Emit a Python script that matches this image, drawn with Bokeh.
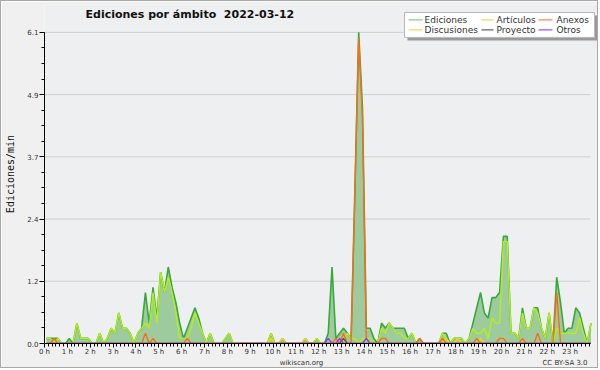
import math
from bokeh.plotting import figure
from bokeh.models import Range1d, FixedTicker, PrintfTickFormatter, Label, LinearAxis
from bokeh.embed import file_html
from bokeh.resources import INLINE

# ---------------- data (edits per minute, 10-minute bins) ----------------
hours = list(range(24))
y_ticks = [0.0, 1.22, 2.44, 3.66, 4.88, 6.1]
footer_texts = ["wikiscan.org", "CC BY-SA 3.0"]

ediciones = [
    0.1, 0.1, 0.1, 0.1, 0.0, 0.0,   # 0 h
    0.1, 0.0, 0.4, 0.1, 0.1, 0.1,   # 1 h
    0.0, 0.0, 0.2, 0.0, 0.1, 0.3,   # 2 h
    0.2, 0.6, 0.3, 0.3, 0.2, 0.0,   # 3 h
    0.2, 0.3, 1.0, 0.4, 1.1, 0.5,   # 4 h
    1.4, 1.0, 1.5, 1.1, 0.8, 0.4,   # 5 h
    0.1, 0.3, 0.5, 0.7, 0.5, 0.2,   # 6 h
    0.0, 0.2, 0.0, 0.0, 0.0, 0.1,   # 7 h
    0.2, 0.0, 0.0, 0.0, 0.0, 0.0,   # 8 h
    0.0, 0.0, 0.0, 0.0, 0.0, 0.2,   # 9 h
    0.0, 0.0, 0.1, 0.0, 0.0, 0.0,   # 10 h
    0.0, 0.0, 0.1, 0.0, 0.0, 0.1,   # 11 h
    0.0, 0.0, 0.2, 1.5, 0.1, 0.2,   # 12 h
    0.3, 0.2, 0.1, 3.0, 6.1, 4.6,   # 13 h
    0.3, 0.3, 0.1, 0.0, 0.4, 0.3,   # 14 h
    0.4, 0.3, 0.3, 0.3, 0.3, 0.1,   # 15 h
    0.2, 0.0, 0.1, 0.0, 0.0, 0.0,   # 16 h
    0.0, 0.0, 0.2, 0.2, 0.0, 0.1,   # 17 h
    0.1, 0.1, 0.0, 0.1, 0.4, 0.7,   # 18 h
    1.0, 0.6, 0.5, 0.9, 0.9, 1.0,   # 19 h
    2.1, 2.1, 0.2, 0.2, 0.1, 0.7,   # 20 h
    0.3, 0.3, 0.7, 0.7, 0.3, 0.1,   # 21 h
    0.6, 0.0, 1.3, 0.8, 0.2, 0.3,   # 22 h
    0.3, 0.7, 0.6, 0.3, 0.0, 0.4,   # 23 h
]

articulos = [
    0.1, 0.1, 0.0, 0.1, 0.0, 0.0,
    0.0, 0.0, 0.4, 0.1, 0.1, 0.1,
    0.0, 0.0, 0.2, 0.0, 0.1, 0.3,
    0.2, 0.6, 0.3, 0.3, 0.2, 0.0,
    0.2, 0.3, 0.4, 0.3, 1.0, 0.4,
    1.4, 1.0, 1.3, 1.0, 0.6, 0.1,
    0.1, 0.1, 0.3, 0.6, 0.4, 0.2,
    0.0, 0.2, 0.0, 0.0, 0.0, 0.1,
    0.2, 0.0, 0.0, 0.0, 0.0, 0.0,
    0.0, 0.0, 0.0, 0.0, 0.0, 0.2,
    0.0, 0.0, 0.0, 0.0, 0.0, 0.0,
    0.0, 0.0, 0.0, 0.0, 0.0, 0.1,
    0.0, 0.0, 0.0, 0.0, 0.0, 0.1,
    0.1, 0.2, 0.1, 0.1, 0.0, 0.1,
    0.1, 0.1, 0.0, 0.0, 0.3, 0.2,
    0.4, 0.3, 0.2, 0.2, 0.1, 0.1,
    0.2, 0.0, 0.0, 0.0, 0.0, 0.0,
    0.0, 0.0, 0.2, 0.1, 0.0, 0.1,
    0.1, 0.1, 0.0, 0.1, 0.3, 0.2,
    0.2, 0.3, 0.1, 0.5, 0.4, 0.4,
    2.0, 2.0, 0.2, 0.2, 0.1, 0.6,
    0.3, 0.3, 0.7, 0.6, 0.3, 0.1,
    0.6, 0.0, 0.3, 0.2, 0.2, 0.2,
    0.2, 0.2, 0.5, 0.2, 0.0, 0.4,
]

anexos = [
    0.0, 0.0, 0.1, 0.0, 0.0, 0.0,
    0.0, 0.0, 0.0, 0.0, 0.0, 0.0,
    0.0, 0.0, 0.0, 0.0, 0.0, 0.0,
    0.0, 0.0, 0.0, 0.0, 0.0, 0.0,
    0.0, 0.0, 0.2, 0.0, 0.1, 0.0,
    0.0, 0.0, 0.0, 0.0, 0.0, 0.0,
    0.0, 0.1, 0.0, 0.0, 0.0, 0.0,
    0.0, 0.0, 0.0, 0.0, 0.0, 0.0,
    0.0, 0.0, 0.0, 0.0, 0.0, 0.0,
    0.0, 0.0, 0.0, 0.0, 0.0, 0.0,
    0.0, 0.0, 0.0, 0.0, 0.0, 0.0,
    0.0, 0.0, 0.0, 0.0, 0.0, 0.0,
    0.0, 0.0, 0.0, 0.0, 0.1, 0.0,
    0.2, 0.0, 0.0, 2.9, 6.0, 4.4,
    0.1, 0.0, 0.0, 0.0, 0.1, 0.1,
    0.0, 0.0, 0.0, 0.0, 0.0, 0.0,
    0.0, 0.0, 0.1, 0.0, 0.0, 0.0,
    0.0, 0.0, 0.1, 0.0, 0.0, 0.0,
    0.0, 0.0, 0.0, 0.0, 0.0, 0.1,
    0.0, 0.0, 0.0, 0.0, 0.0, 0.1,
    0.1, 0.0, 0.0, 0.0, 0.0, 0.1,
    0.0, 0.0, 0.0, 0.2, 0.0, 0.0,
    0.0, 0.0, 1.0, 0.0, 0.0, 0.0,
    0.0, 0.0, 0.0, 0.0, 0.0, 0.0,
]

discusiones = [0.0] * 144
for i in (59, 62, 68, 105, 108, 114, 119, 120):
    discusiones[i] = 0.1

proyecto = [0.0] * 144
proyecto[78] = 0.1

otros = [0.0] * 144
for i in (74, 77, 84):
    otros[i] = 0.1

series_names = ["Ediciones", "Artículos", "Anexos", "Discusiones", "Proyecto", "Otros"]
series_colors = ["#3aa83a", "#b4ee1c", "#ff6a1a", "#ffcc22", "#555555", "#9933ff"]
legend_colors = ["#88d088", "#ccee55", "#ff8855", "#ffd655", "#666666", "#9955ff"]

# x position of each bin (hours, bin centre)
x = [i / 6 + 1 / 12 for i in range(144)]

# ---------------- geometry helpers (page pixels -> data) ----------------
PX_H = 22.85      # pixels per hour
PX_U = 51.15      # pixels per edit/min
LEFT, BASE = 44, 344


def X(px):
    return (px - LEFT) / PX_H


def Y(py):
    return (BASE - py) / PX_U


p = figure(width=598, height=368, output_backend="svg", toolbar_location=None,
           x_range=Range1d(0, X(598)), y_range=Range1d(0, Y(4)),
           min_border_left=43, min_border_right=1, min_border_top=3, min_border_bottom=25)
p.styles = {"border": "1px solid #a8a8a8"}
p.background_fill_color = "#eeeff0"
p.border_fill_color = "#f0f0f0"
p.outline_line_color = None
p.xgrid.visible = False
p.ygrid.visible = False

x_end = 23.9
# horizontal grid lines
p.segment(x0=[0] * 5, x1=[x_end] * 5, y0=y_ticks[1:], y1=y_ticks[1:],
          line_color="#cfcfcf", line_width=1)

# Ediciones area + line
p.varea(x=x, y1=[0] * 144, y2=ediciones, fill_color="#9ecb9d")
p.line(x, ediciones, line_color=series_colors[0], line_width=1.6)
p.line(x, articulos, line_color=series_colors[1], line_width=1.4)
p.line(x, discusiones, line_color=series_colors[3], line_width=1.3)
p.line(x, anexos, line_color=series_colors[2], line_width=1.4)
p.line(x, proyecto, line_color=series_colors[4], line_width=1.3)
p.line(x, otros, line_color=series_colors[5], line_width=1.3)

# axes
xa = p.xaxis[0]
xa.bounds = (0, x_end)
xa.ticker = FixedTicker(ticks=hours, minor_ticks=[k / 6 for k in range(144)])
xa.formatter = PrintfTickFormatter(format="%d h")
ya = p.yaxis[0]
ya.bounds = (0, y_ticks[-1])
ya.ticker = FixedTicker(ticks=y_ticks, minor_ticks=[k * y_ticks[-1] / 20 for k in range(21)])
ya.formatter = PrintfTickFormatter(format="%.1f")
for ax in (xa, ya):
    ax.axis_line_color = "black"
    ax.axis_line_width = 1
    ax.major_tick_line_color = "black"
    ax.minor_tick_line_color = "black"
    ax.major_tick_in = 0
    ax.minor_tick_in = 0
    ax.major_tick_out = 5
    ax.minor_tick_out = 3
    ax.major_label_text_font = "DejaVu Sans"
    ax.major_label_text_font_size = "7px"
    ax.major_label_text_color = "#333333"
    ax.major_label_standoff = 1
xa.major_tick_out = 4
xa.major_label_standoff = 0

ya.axis_label = "Ediciones/min"
ya.axis_label_text_font = "DejaVu Sans Mono"
ya.axis_label_text_font_size = "10px"
ya.axis_label_text_font_style = "normal"
ya.axis_label_text_color = "#111111"
ya.axis_label_standoff = 8

# footer axis: site name and licence as two labels on one line
foot_pos = [X(301), X(564.5)]
foot = LinearAxis(bounds=(0, x_end),
                  ticker=FixedTicker(ticks=foot_pos, minor_ticks=[]),
                  major_label_overrides=dict(zip(foot_pos, footer_texts)),
                  axis_line_color=None, major_tick_out=0, minor_tick_out=0,
                  major_tick_in=0, minor_tick_in=0, major_tick_line_color=None,
                  minor_tick_line_color=None,
                  major_label_text_font="DejaVu Sans", major_label_text_font_size="7px",
                  major_label_text_color="#333333", major_label_standoff=0)
p.add_layout(foot, "below")

# title
p.add_layout(Label(x=X(85), y=Y(14), text="Ediciones por ámbito\u00a0\u00a02022-03-12",
                   text_font="DejaVu Sans", text_font_style="bold", text_font_size="11px",
                   text_color="#111111", text_align="left", text_baseline="middle"))

# legend box (shadow + white box)
p.quad(left=[X(407)], right=[X(597)], top=[Y(15)], bottom=[Y(40)],
       fill_color="#9a9a9a", line_color=None)
p.quad(left=[X(404)], right=[X(594)], top=[Y(12)], bottom=[Y(37)],
       fill_color="white", line_color="#b8b8b8", line_width=1)

col_line = [(408, 422), (481, 493), (538, 552)]
col_text = [424, 496, 556]
row_y = [19.5, 29.5]
for k, name in enumerate(series_names):
    r, c = divmod(k, 3)
    p.segment(x0=[X(col_line[c][0])], x1=[X(col_line[c][1])],
              y0=[Y(row_y[r])], y1=[Y(row_y[r])],
              line_color=legend_colors[k], line_width=1.2)
    p.add_layout(Label(x=X(col_text[c]), y=Y(row_y[r]), text=name,
                       text_font="DejaVu Sans", text_font_size="9px", text_color="#333333",
                       text_align="left", text_baseline="middle"))

open("out.html", "w").write(file_html(p, INLINE))
